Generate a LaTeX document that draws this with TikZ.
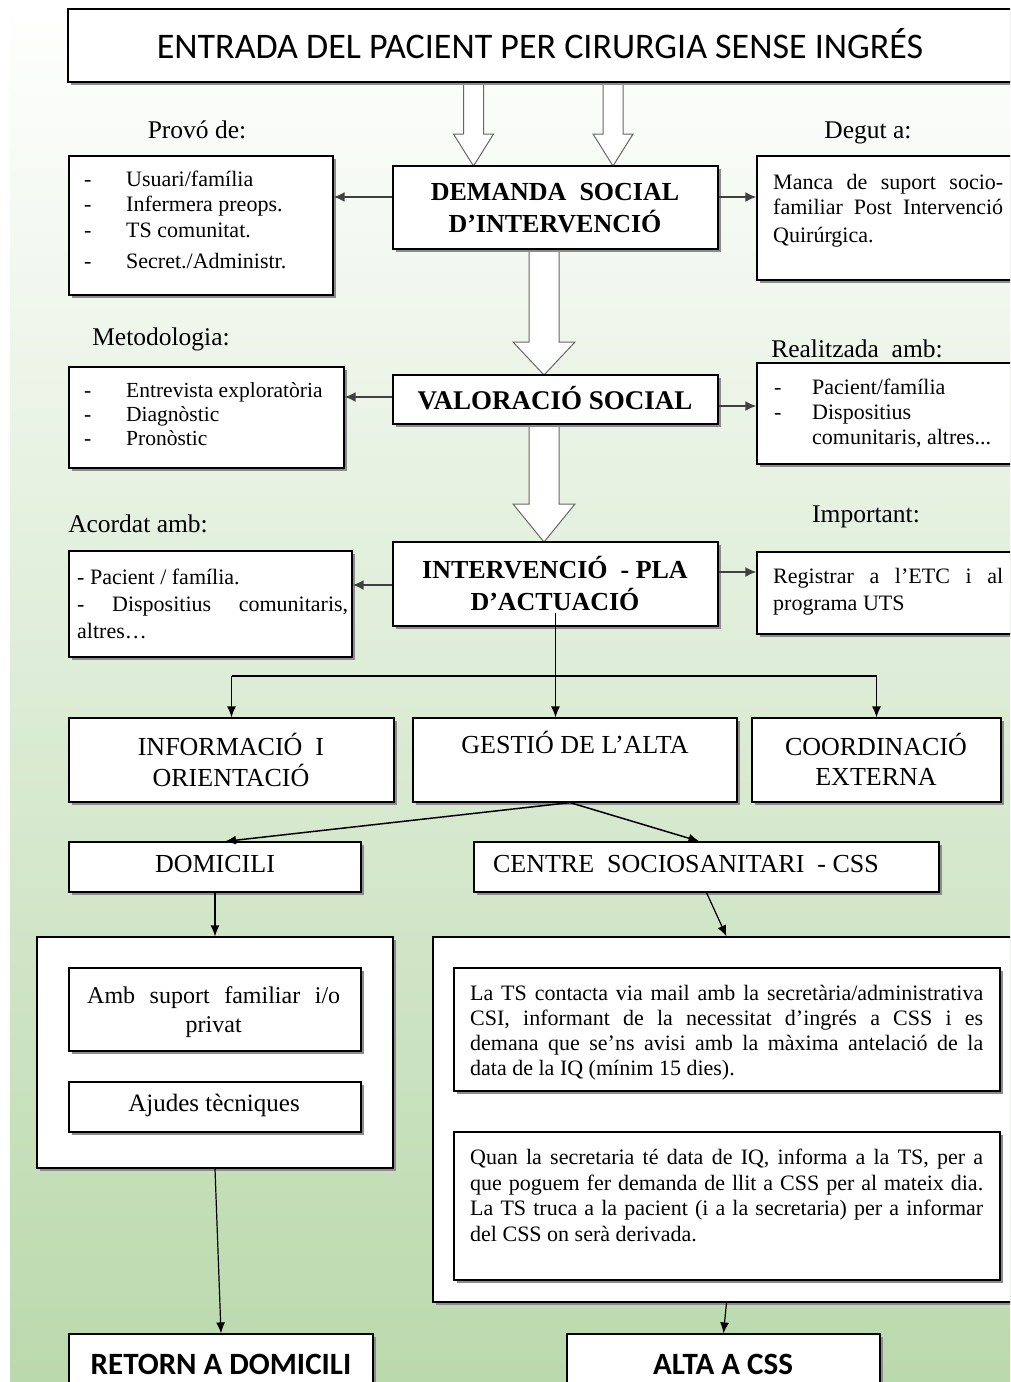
\documentclass[tikz,border=0pt]{standalone}
\usepackage{fontspec}
\setmainfont{Liberation Serif}
\newfontfamily\calfont{Carlito}
\usetikzlibrary{arrows.meta,shadows,fit}
\definecolor{bggreen}{RGB}{186,217,172}
\tikzset{
  frame/.style={draw=black, line width=1.2pt, fill=white, inner sep=0pt,
    general shadow={fill=black!45, shadow xshift=3pt, shadow yshift=-3pt}},
  tb/.style={anchor=north west, inner sep=0pt},
  tbc/.style={anchor=north, inner sep=0pt},
  lbl/.style={inner sep=0pt, anchor=base, font=\fontsize{25.5}{30}\selectfont},
  side/.style={draw=black!75, line width=2pt, -{Latex[length=11pt,width=10pt]}},
  tree/.style={draw=black, line width=1.2pt, -{Latex[length=11pt,width=9pt]}},
  treeline/.style={draw=black, line width=1.2pt},
  hollow/.style={draw=black!60, line width=1pt, fill=white},
}
\newcommand\mkbox[5]{%
  \coordinate (#1-a) at (#2,#3); \coordinate (#1-b) at (#4,#5);
  \node[frame, fit=(#1-a)(#1-b)] (#1) {};}
\newcommand\hollowarrow[6]{% cx, ytop, ytip, shaft half, head half, head length
  \filldraw[hollow] (#1-#4,#2) -- (#1+#4,#2) -- (#1+#4,#3-#6) -- (#1+#5,#3-#6)
    -- (#1,#3) -- (#1-#5,#3-#6) -- (#1-#4,#3-#6) -- cycle;}
\begin{document}
\begin{tikzpicture}[x=1pt,y=-1pt]
\useasboundingbox (0,0) rectangle (1010,1382);
\clip (0,0) rectangle (1010,1382);
\fill[white] (0,0) rectangle (1010,1382);
\shade[top color=white, bottom color=bggreen] (10,0) rectangle (1010,1382);

% hollow block arrows
\hollowarrow{473.5}{82}{166}{10}{20}{32}
\hollowarrow{613}{82}{166}{10}{20}{32}
\hollowarrow{544}{249}{375}{15}{31}{33}
\hollowarrow{544}{423}{542}{15}{31}{38}

% boxes
\mkbox{title}{68}{9}{1040}{82}
\mkbox{prov}{69}{156}{333}{295}
\mkbox{dem}{393}{166}{718}{249}
\mkbox{manca}{757}{156}{1040}{280}
\mkbox{met}{69}{367}{344}{468}
\mkbox{val}{393}{375}{718}{424}
\mkbox{real}{757}{363}{1040}{464}
\mkbox{acor}{69}{551}{352}{657}
\mkbox{int}{393}{542}{718}{626}
\mkbox{reg}{757}{552}{1040}{634}
\mkbox{info}{69}{718}{394}{802}
\mkbox{gest}{413}{718}{737}{802}
\mkbox{coord}{752}{718}{1001}{802}
\mkbox{dom}{69}{842}{361}{892}
\mkbox{css}{474}{842}{939}{892}
\mkbox{lcont}{37}{937}{393}{1168}
\mkbox{amb}{69}{968}{361}{1051}
\mkbox{ajud}{69}{1082}{361}{1132}
\mkbox{rcont}{433}{937}{1040}{1302}
\mkbox{tone}{454}{968}{1000}{1091}
\mkbox{ttwo}{454}{1132}{1000}{1280}
\mkbox{ret}{69}{1334}{373}{1400}
\mkbox{alta}{567}{1334}{880}{1400}

% texts
\node[inner sep=0pt, font=\calfont\fontsize{36}{40}\selectfont] (titletxt) at (540,44) {ENTRADA DEL PACIENT PER CIRURGIA SENSE INGRÉS};
\node[lbl] (lprov) at (197,138.5) {Provó de:};
\node[lbl] (ldeg) at (868,138.5) {Degut a:};
\node[lbl] (lmet) at (161,345.5) {Metodologia:};
\node[lbl] (lreal) at (857,357.5) {Realitzada\ \ amb:};
\node[lbl] (lacor) at (138,532.5) {Acordat amb:};
\node[lbl] (limp) at (866,522.5) {Important:};

\node[tb, font=\fontsize{22}{25.5}\selectfont] (provtxt) at (84,168.4) {%
  \begin{tabular}{@{}p{42pt}@{}l@{}}
  - & Usuari/família\\
  - & Infermera preops.\\
  - & TS comunitat.\\[6pt]
  - & Secret./Administr.
  \end{tabular}};
\node[tb, font=\fontsize{22}{25}\selectfont] (mancatxt) at (773,172) {%
  \begin{tabular}{@{}l@{}}
  \makebox[230pt][s]{Manca de suport socio-}\\
  \makebox[230pt][s]{familiar Post Intervenció}\\[3pt]
  Quirúrgica.
  \end{tabular}};
\node[tbc, font=\bfseries\fontsize{26}{32}\selectfont] (demtxt) at (555,178) {%
  \begin{tabular}{@{}c@{}}DEMANDA\ \ SOCIAL\\ D’INTERVENCIÓ\end{tabular}};

\node[tb, font=\fontsize{21.5}{24}\selectfont] (mettxt) at (84,380.3) {%
  \begin{tabular}{@{}p{42pt}@{}l@{}}
  - & Entrevista exploratòria\\
  - & Diagnòstic\\
  - & Pronòstic
  \end{tabular}};
\node[tbc, font=\bfseries\fontsize{27}{32}\selectfont] (valtxt) at (555,386.5) {VALORACIÓ SOCIAL};
\node[tb, font=\fontsize{22}{25}\selectfont] (realtxt) at (774,377) {%
  \begin{tabular}{@{}p{38pt}@{}l@{}}
  - & Pacient/família\\
  - & Dispositius\\
    & comunitaris, altres...
  \end{tabular}};

\node[tb, font=\fontsize{22}{27}\selectfont] (acortxt) at (77,565.4) {%
  \begin{tabular}{@{}l@{}}
  - Pacient / família.\\
  \makebox[271pt][s]{- Dispositius comunitaris,}\\
  altres…
  \end{tabular}};
\node[tbc, font=\bfseries\fontsize{26}{31}\selectfont] (inttxt) at (555,555.9) {%
  \begin{tabular}{@{}c@{}}INTERVENCIÓ\ \ - PLA\\ D’ACTUACIÓ\end{tabular}};
\node[tb, font=\fontsize{22}{27}\selectfont] (regtxt) at (773,564.4) {%
  \begin{tabular}{@{}l@{}}
  \makebox[230pt][s]{Registrar a l’ETC i al}\\
  programa UTS
  \end{tabular}};

\node[tbc, font=\fontsize{26}{30}\selectfont] (infotxt) at (231,732.6) {%
  \begin{tabular}{@{}c@{}}INFORMACIÓ\ \ I\\ ORIENTACIÓ\end{tabular}};
\node[tbc, font=\fontsize{26}{30}\selectfont] (gesttxt) at (575,730.6) {GESTIÓ DE L’ALTA};
\node[tbc, font=\fontsize{26}{30}\selectfont] (coordtxt) at (876,732.6) {%
  \begin{tabular}{@{}c@{}}COORDINACIÓ\\ EXTERNA\end{tabular}};
\node[tbc, font=\fontsize{26}{30}\selectfont] (domtxt) at (215,854.6) {DOMICILI};
\node[tbc, font=\fontsize{26}{30}\selectfont] (csstxt) at (686,854.6) {CENTRE\ \ SOCIOSANITARI\ \ - CSS};

\node[tb, font=\fontsize{24}{29}\selectfont] (ambtxt) at (87,982.6) {%
  \begin{tabular}{@{}l@{}}
  \makebox[253pt][s]{Amb suport familiar i/o}\\
  \makebox[253pt]{privat}
  \end{tabular}};
\node[tbc, font=\fontsize{25}{30}\selectfont] (ajudtxt) at (214,1094.3) {Ajudes tècniques};

\node[tb, font=\fontsize{22}{25}\selectfont] (onetxt) at (470,982.8) {%
  \begin{tabular}{@{}l@{}}
  \makebox[513pt][s]{La TS contacta via mail amb la secretària/administrativa}\\
  \makebox[513pt][s]{CSI, informant de la necessitat d’ingrés a CSS i es}\\
  \makebox[513pt][s]{demana que se’ns avisi amb la màxima antelació de la}\\
  data de la IQ (mínim 15 dies).
  \end{tabular}};
\node[tb, font=\fontsize{22}{25.5}\selectfont] (twotxt) at (470,1146.5) {%
  \begin{tabular}{@{}l@{}}
  \makebox[513pt][s]{Quan la secretaria té data de IQ, informa a la TS, per a}\\
  \makebox[513pt][s]{que poguem fer demanda de llit a CSS per al mateix dia.}\\
  \makebox[513pt][s]{La TS truca a la pacient (i a la secretaria) per a informar}\\
  del CSS on serà derivada.
  \end{tabular}};

\node[inner sep=0pt, font=\calfont\bfseries\fontsize{31}{36}\selectfont] (rettxt) at (221,1364) {RETORN A DOMICILI};
\node[inner sep=0pt, font=\calfont\bfseries\fontsize{31}{36}\selectfont] (altatxt) at (723,1364) {ALTA A CSS};

% side connectors
\draw[side] (dem.west |- 0,197) -- (prov.east |- 0,197);
\draw[side] (dem.east |- 0,197) -- (manca.west |- 0,197);
\draw[side] (val.west |- 0,397) -- (met.east |- 0,397);
\draw[side] (val.east |- 0,406) -- (real.west |- 0,406);
\draw[side] (int.west |- 0,585) -- (acor.east |- 0,585);
\draw[side] (int.east |- 0,572) -- (reg.west |- 0,572);

% tree connectors
\coordinate (split) at (555.5,676);
\draw[tree] ([yshift=14pt]int.south) -- (int.south |- gest.north);
\draw[treeline] (info.north |- split) -- (coord.north |- split);
\draw[tree] (info.north |- split) -- (info.north);
\draw[tree] (coord.north |- split) -- (coord.north);
\draw[tree, line width=1.5pt] ([xshift=-5pt]gest.south) -- ([xshift=10pt]dom.north);
\draw[tree, line width=1.5pt] ([xshift=-5pt]gest.south) -- ([xshift=-7pt]css.north);
\draw[tree] (dom.south) -- (dom.south |- lcont.north);
\draw[tree] (css.south) -- ([xshift=-10pt]rcont.north);
\draw[tree] (lcont.south) -- (ret.north);
\draw[tree] ([xshift=-10pt]rcont.south) -- (alta.north);
\end{tikzpicture}
\end{document}
